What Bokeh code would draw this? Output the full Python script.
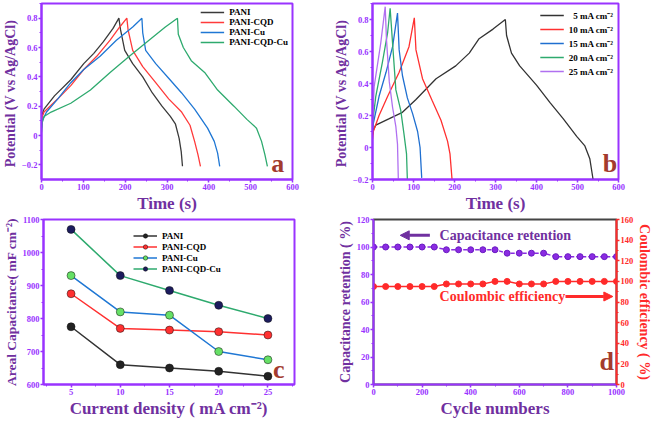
from bokeh.plotting import figure
from bokeh.layouts import column, row
from bokeh.models import (Range1d, LinearAxis, Label, Arrow, NormalHead,
                          SingleIntervalTicker)
from bokeh.embed import file_html
from bokeh.resources import INLINE

SERIF = "Liberation Serif"
PURPLE = "#9933FF"
PURPLE_D = "#7030A0"
RED = "#FF2A2A"
LETTER = "#A33B2E"

# ---------------- panel a : GCD of the four electrodes (5 mA cm-2) -------------
a_names = ["PANI", "PANI-CQD", "PANI-Cu", "PANI-CQD-Cu"]
a_colors = ["#3a3a3a", "#FF3B3B", "#1F77D4", "#2EAA6E"]
pani_t = [0, 1, 6, 31, 70, 101, 125, 148, 171, 185, 189, 199, 218, 242, 265, 288, 308, 320, 329, 334, 337]
pani_v = [0.09, 0.14, 0.18, 0.27, 0.38, 0.49, 0.56, 0.64, 0.73, 0.80, 0.72, 0.58, 0.49, 0.40, 0.29, 0.20, 0.13, 0.08, -0.02, -0.11, -0.21]
cqd_t = [0, 1, 6, 39, 70, 101, 132, 164, 187, 204, 207, 218, 242, 273, 304, 335, 355, 366, 374, 380]
cqd_v = [0.07, 0.12, 0.16, 0.25, 0.34, 0.45, 0.54, 0.65, 0.74, 0.80, 0.72, 0.58, 0.47, 0.36, 0.25, 0.16, 0.07, -0.04, -0.13, -0.21]
cu_t = [0, 2, 12, 39, 70, 101, 140, 179, 218, 240, 242, 249, 273, 304, 335, 366, 397, 413, 421, 426]
cu_v = [0.05, 0.10, 0.16, 0.25, 0.36, 0.45, 0.54, 0.65, 0.74, 0.80, 0.70, 0.58, 0.49, 0.39, 0.29, 0.18, 0.05, -0.04, -0.12, -0.21]
cqdcu_t = [0, 2, 6, 23, 70, 117, 164, 210, 257, 296, 325, 327, 339, 358, 390, 421, 460, 491, 514, 526, 534, 540]
cqdcu_v = [0.02, 0.09, 0.13, 0.16, 0.22, 0.31, 0.43, 0.54, 0.65, 0.74, 0.80, 0.69, 0.60, 0.51, 0.43, 0.31, 0.20, 0.11, 0.05, -0.04, -0.13, -0.21]

# ---------------- panel b : PANI-CQD-Cu at several current densities ------------
b_names = ["\u00a0\u00a05 mA cm\u207b\u00b2", "10 mA cm\u207b\u00b2", "15 mA cm\u207b\u00b2",
           "20 mA cm\u207b\u00b2", "25 mA cm\u207b\u00b2"]
b_colors = ["#333333", "#FF3030", "#1F6FD0", "#2EAA6E", "#B070F0"]
b5_t = [0, 2, 8, 41, 73, 106, 155, 203, 236, 260, 294, 324, 327, 339, 359, 400, 433, 465, 498, 518, 530, 538]
b5_v = [0.08, 0.11, 0.14, 0.18, 0.22, 0.30, 0.43, 0.51, 0.59, 0.68, 0.74, 0.80, 0.70, 0.59, 0.51, 0.39, 0.28, 0.18, 0.07, 0.01, -0.07, -0.20]
b10_t = [0, 2, 16, 37, 65, 89, 102, 106, 122, 146, 167, 183, 189, 194]
b10_v = [0.05, 0.10, 0.20, 0.32, 0.47, 0.63, 0.81, 0.61, 0.43, 0.29, 0.17, 0.04, -0.04, -0.20]
b15_t = [0, 2, 16, 33, 49, 61, 65, 73, 85, 98, 110, 116, 120]
b15_v = [0.10, 0.15, 0.32, 0.47, 0.63, 0.84, 0.61, 0.45, 0.31, 0.21, 0.10, 0.00, -0.19]
b20_t = [0, 1, 8, 24, 37, 43, 49, 57, 69, 77, 83, 85]
b20_v = [0.12, 0.17, 0.32, 0.53, 0.72, 0.87, 0.65, 0.36, 0.23, 0.08, -0.04, -0.20]
b25_t = [0, 1, 4, 20, 31, 34, 41, 49, 57, 61, 63]
b25_v = [0.15, 0.20, 0.38, 0.65, 0.88, 0.68, 0.41, 0.25, 0.13, 0.02, -0.20]

# ---------------- panel c : areal capacitance vs current density ----------------
c_density = [5, 10, 15, 20, 25]
c_pani = [775, 660, 650, 640, 625]
c_cqd = [875, 770, 765, 760, 750]
c_cu = [930, 820, 810, 700, 675]
c_cqdcu = [1070, 930, 885, 840, 800]
c_line_colors = ["#333333", "#FF3030", "#1F77D4", "#2EAA6E"]
c_marker_colors = ["#222222", "#FF3030", "#66E066", "#1C1C5E"]

# ---------------- panel d : cycling stability ------------------------------------
d_cycles = [0, 50, 100, 150, 200, 250, 300, 350, 400, 450, 500, 550, 600, 650, 700,
            750, 800, 850, 900, 950, 1000]
d_retention = [100, 100, 100, 100, 100, 100, 98, 98, 98, 98, 98, 95.5, 95.5, 95.5, 95.5,
               93, 93, 93, 93, 93, 93]
d_coulombic = [95, 95, 95, 95, 95, 95, 97.5, 97.5, 97.5, 97.5, 100, 100, 97.5, 97.5, 97.5,
               100, 100, 100, 100, 100, 100]


def style_axis(ax, color, label_color, label_size):
    ax.axis_line_color = color
    ax.axis_line_width = 2
    ax.major_tick_line_color = color
    ax.minor_tick_line_color = color
    ax.major_tick_line_width = 1.5
    ax.major_tick_in = 0
    ax.major_tick_out = 3
    ax.minor_tick_in = 0
    ax.minor_tick_out = 2
    ax.major_label_text_color = color
    ax.major_label_text_font = SERIF
    ax.major_label_text_font_style = "bold"
    ax.major_label_text_font_size = "8.5px"
    ax.major_label_standoff = 1
    ax.axis_label_text_font = SERIF
    ax.axis_label_text_font_style = "bold"
    ax.axis_label_text_color = label_color
    ax.axis_label_text_font_size = label_size
    ax.axis_label_standoff = 1


def make_fig(fw, fh, xr, yr, bl, br, bt, bb):
    p = figure(frame_width=fw, frame_height=fh, x_range=xr, y_range=yr, output_backend="svg",
               toolbar_location=None, min_border_left=bl, min_border_right=br,
               min_border_top=bt, min_border_bottom=bb)
    p.xgrid.visible = False
    p.ygrid.visible = False
    p.outline_line_color = PURPLE
    p.outline_line_width = 2
    p.background_fill_color = "white"
    return p


def style_legend(p, size="9px", row_h=10):
    lg = p.legend[0]
    lg.label_text_font = SERIF
    lg.label_text_font_style = "bold"
    lg.label_text_font_size = size
    lg.label_text_color = "black"
    lg.border_line_alpha = 0
    lg.background_fill_alpha = 0
    lg.glyph_width = 24
    lg.glyph_height = row_h
    lg.label_height = row_h
    lg.spacing = 0
    lg.padding = 2
    lg.label_standoff = 5


def letter(p, x, y, t):
    p.add_layout(Label(x=x, y=y, text=t, text_font=SERIF, text_font_style="bold",
                       text_font_size="26px", text_color=LETTER, text_align="center",
                       text_baseline="middle"))


H1, H2 = 176, 165

# ---- a
pa = make_fig(251, H1, Range1d(0, 600), Range1d(-0.3, 0.9), 34, 37, 3, 20)
for t, v, c, n in zip([pani_t, cqd_t, cu_t, cqdcu_t], [pani_v, cqd_v, cu_v, cqdcu_v],
                      a_colors, a_names):
    pa.line(t, v, line_color=c, line_width=1.3, legend_label=n)
pa.xaxis.ticker = SingleIntervalTicker(interval=100, num_minor_ticks=2)
pa.yaxis.ticker = SingleIntervalTicker(interval=0.2, num_minor_ticks=2)
pa.xaxis.axis_label = "Time (s)"
pa.yaxis.axis_label = "Potential  (V vs Ag/AgCl)"
style_axis(pa.xaxis[0], PURPLE, PURPLE_D, "17px")
style_axis(pa.yaxis[0], PURPLE, PURPLE_D, "14px")
style_legend(pa, "9px", 10)
pa.legend.location = "top_right"
pa.legend.margin = 2
letter(pa, 565, -0.19, "a")

# ---- b
pb = make_fig(246, H1, Range1d(0, 600), Range1d(-0.2, 0.9), 43, 33, 3, 20)
for t, v, c, n in zip([b5_t, b10_t, b15_t, b20_t, b25_t], [b5_v, b10_v, b15_v, b20_v, b25_v],
                      b_colors, b_names):
    pb.line(t, v, line_color=c, line_width=1.3, legend_label=n)
pb.xaxis.ticker = SingleIntervalTicker(interval=100, num_minor_ticks=2)
pb.yaxis.ticker = SingleIntervalTicker(interval=0.2, num_minor_ticks=2)
pb.xaxis.axis_label = "Time (s)"
pb.yaxis.axis_label = "Potential  (V vs Ag/AgCl)"
style_axis(pb.xaxis[0], PURPLE, PURPLE_D, "17px")
style_axis(pb.yaxis[0], PURPLE, PURPLE_D, "14px")
style_legend(pb, "9px", 14)
pb.legend.location = "top_right"
pb.legend.margin = 3
letter(pb, 579, -0.1, "b")

# ---- c
pc = make_fig(251, H2, Range1d(2.2, 27.7), Range1d(600, 1100), 34, 37, 4, 20)
for vals, lc, mc, n in zip([c_pani, c_cqd, c_cu, c_cqdcu], c_line_colors, c_marker_colors, a_names):
    pc.line(c_density, vals, line_color=lc, line_width=1.5, legend_label=n)
    pc.scatter(c_density, vals, size=8, fill_color=mc, line_color="#111111",
               line_width=0.5, legend_label=n)
pc.xaxis.ticker = SingleIntervalTicker(interval=5, num_minor_ticks=2)
pc.yaxis.ticker = SingleIntervalTicker(interval=100, num_minor_ticks=2)
pc.xaxis.axis_label = "Current density ( mA cm\u207b\u00b2)"
pc.yaxis.axis_label = "Areal Capacitance( mF cm\u207b\u00b2)"
style_axis(pc.xaxis[0], PURPLE, PURPLE_D, "17px")
style_axis(pc.yaxis[0], PURPLE, PURPLE_D, "13.5px")
style_legend(pc, "9px", 11)
pc.legend.location = (88, 108)
letter(pc, 26.1, 645, "c")

# ---- d
pd = make_fig(243, H2, Range1d(0, 1000), Range1d(0, 120), 42, 38, 4, 20)
pd.outline_line_color = "#444444"
pd.extra_y_ranges = {"ce": Range1d(0, 160)}
pd.line(d_cycles, d_retention, line_color="#8A2BE2", line_width=1.5, line_dash="4 2")
pd.scatter(d_cycles, d_retention, size=6, fill_color="#8A2BE2", line_color="#6A1BC2")
pd.line(d_cycles, d_coulombic, line_color=RED, line_width=1.5, y_range_name="ce")
pd.scatter(d_cycles, d_coulombic, size=6, fill_color=RED, line_color=RED, y_range_name="ce")
pd.xaxis.ticker = SingleIntervalTicker(interval=200, num_minor_ticks=2)
pd.yaxis.ticker = SingleIntervalTicker(interval=20, num_minor_ticks=2)
pd.xaxis.axis_label = "Cycle numbers"
pd.yaxis.axis_label = "Capacitance retention ( %)"
style_axis(pd.xaxis[0], PURPLE, PURPLE_D, "17px")
style_axis(pd.yaxis[0], PURPLE, PURPLE_D, "14px")
ax_r = LinearAxis(y_range_name="ce", ticker=SingleIntervalTicker(interval=20, num_minor_ticks=2),
                  axis_label="Coulombic efficiency ( %)")
style_axis(ax_r, RED, RED, "14px")
pd.add_layout(ax_r, "right")

pd.add_layout(Arrow(end=NormalHead(size=9, fill_color="#7030A0", line_color="#7030A0"),
                    x_start=232, y_start=108.5, x_end=110, y_end=108.5,
                    line_color="#7030A0", line_width=3))
pd.add_layout(Label(x=272, y=108.5, text="Capacitance retention", text_font=SERIF,
                    text_font_style="bold", text_font_size="14px", text_color="#7030A0",
                    text_baseline="middle"))
pd.add_layout(Label(x=272, y=64, text="Coulombic efficiency", text_font=SERIF,
                    text_font_style="bold", text_font_size="14px", text_color=RED,
                    text_baseline="middle"))
pd.add_layout(Arrow(end=NormalHead(size=9, fill_color=RED, line_color=RED),
                    x_start=790, y_start=64, x_end=985, y_end=64,
                    line_color=RED, line_width=3))
letter(pd, 960, 16.7, "d")

layout = column(row(pa, pb), row(pc, pd))
open("out.html", "w").write(file_html(layout, INLINE))
